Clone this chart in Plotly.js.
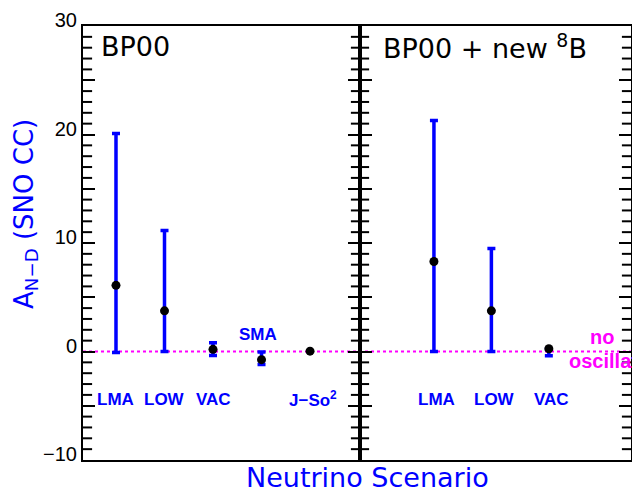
<!DOCTYPE html>
<html>
<head>
<meta charset="utf-8">
<script src="https://cdn.plot.ly/plotly-3.0.1.min.js"></script>
<style>html,body{margin:0;padding:0;background:#fff;}#chart{width:632px;height:494px;}</style>
</head>
<body>
<div id="chart"></div>
<script>
// Left panel: BP00
const catsLeft = ["LMA", "LOW", "VAC", "SMA", "J−So<sup>2</sup>"];
const valLeft = [6.1, 3.75, 0.2, -0.75, 0.03];
const hiLeft = [20.1, 11.15, 0.8, -0.05, 0.03];
const loLeft = [-0.1, 0.0, -0.37, -1.2, 0.03];

// Right panel: BP00 + new 8B
const catsRight = ["LMA", "LOW", "VAC"];
const valRight = [8.3, 3.75, 0.25];
const hiRight = [21.3, 9.5, 0.25];
const loRight = [0.0, 0.0, -0.4];

// y axis ticks (labels only at the tens)
const yMajorVals = [-10, -5, 0, 5, 10, 15, 20, 25, 30];
const yMajorText = ["−10", " ", "0", " ", "10", " ", "20", " ", "30"];

const BLUE = "#0000ff";
const Y_RANGE = [-10, 30];
const X_RANGE_L = [0.32, 6.03];
const X_RANGE_R = [-0.287, 4.43];
const posL = catsLeft.map((c, i) => i + 1);
const posR = catsRight.map((c, i) => i + 1);

// short tick marks every unit on both vertical edges of each panel
const tickUnits = [];
for (let v = Y_RANGE[0]; v <= Y_RANGE[1]; v++) if (v % 5 !== 0) tickUnits.push(v);

function edgeTicks(xr, xa, ya) {
  const ys = tickUnits.concat(tickUnits);
  const xs = tickUnits.map(() => xr[0]).concat(tickUnits.map(() => xr[1]));
  return {
    type: "scatter", mode: "markers", x: xs, y: ys, xaxis: xa, yaxis: ya,
    marker: {symbol: "line-ew", size: 13, color: "black", line: {color: "black", width: 2}},
    cliponaxis: true, showlegend: false, hoverinfo: "skip"
  };
}

function trace(pos, v, hi, lo, xa, ya) {
  return {
    type: "scatter", mode: "markers", x: pos, y: v, xaxis: xa, yaxis: ya,
    marker: {color: "black", size: 9},
    error_y: {type: "data", symmetric: false,
      array: hi.map((h, i) => h - v[i]),
      arrayminus: lo.map((l, i) => v[i] - l),
      color: BLUE, thickness: 3.5, width: 4},
    showlegend: false, hoverinfo: "skip"
  };
}

const data = [
  edgeTicks(X_RANGE_L, "x", "y"),
  edgeTicks(X_RANGE_R, "x2", "y2"),
  trace(posL, valLeft, hiLeft, loLeft, "x", "y"),
  trace(posR, valRight, hiRight, loRight, "x2", "y2")
];

const yax = (anchor) => ({
  range: Y_RANGE, anchor: anchor, domain: [0, 1],
  showline: true, linecolor: "black", linewidth: 2, mirror: "ticks",
  ticks: "inside", ticklen: 12, tickwidth: 2, tickcolor: "black",
  tickmode: "array", tickvals: yMajorVals, ticktext: yMajorText,
  showgrid: false, zeroline: false, fixedrange: true,
  tickfont: {family: "Liberation Sans, Arial, sans-serif", size: 20, color: "black"},
  ticklabelshift: -6
});

const domSplit = 277 / 548;
const layout = {
  width: 632, height: 494,
  margin: {l: 83, r: 1, t: 26, b: 34},
  paper_bgcolor: "white", plot_bgcolor: "white",
  xaxis: {domain: [0, domSplit], range: X_RANGE_L, anchor: "y",
    showline: true, linecolor: "black", linewidth: 2, mirror: true,
    ticks: "", showticklabels: false, showgrid: false, zeroline: false, fixedrange: true},
  xaxis2: {domain: [domSplit, 1], range: X_RANGE_R, anchor: "y2",
    showline: true, linecolor: "black", linewidth: 2, mirror: true,
    ticks: "", showticklabels: false, showgrid: false, zeroline: false, fixedrange: true},
  yaxis: yax("x"),
  yaxis2: Object.assign(yax("x2"), {showticklabels: false}),
  shapes: [
    {type: "line", xref: "paper", yref: "y", x0: 0, x1: 1, y0: 0, y1: 0,
     line: {color: "#ff00ff", width: 2, dash: "dot"}, layer: "below"}
  ],
  annotations: []
};

const labFont = {family: "Liberation Sans, Arial, sans-serif", size: 17, color: BLUE, weight: "bold"};
catsLeft.forEach((c, i) => {
  if (c === "SMA") {
    layout.annotations.push({xref: "x", yref: "y", x: posL[i] - 0.07, y: 1.55, text: c, showarrow: false, font: labFont});
  } else {
    layout.annotations.push({xref: "x", yref: "y", x: posL[i] + (i === 4 ? 0.06 : 0), y: -4.4, text: c, showarrow: false, font: labFont});
  }
});
catsRight.forEach((c, i) => {
  layout.annotations.push({xref: "x2", yref: "y2", x: posR[i] + 0.05, y: -4.4, text: c, showarrow: false, font: labFont});
});

const magFont = {family: "Liberation Sans, Arial, sans-serif", size: 20, color: "#ff00ff", weight: "bold"};
layout.annotations.push(
  {xref: "paper", yref: "y2", x: (602 - 83) / 548, y: 1.3, text: "no", showarrow: false, font: magFont, xanchor: "center"},
  {xref: "paper", yref: "y2", x: (567 - 83) / 548, y: -0.9, text: "oscillation", showarrow: false, font: magFont, xanchor: "left"}
);

const titleFont = {family: "DejaVu Sans, sans-serif", size: 27, color: "black"};
layout.annotations.push(
  {xref: "paper", yref: "paper", x: (99 - 83) / 548, y: (460 - 46) / 434, xanchor: "left", yanchor: "middle",
   text: "BP00", showarrow: false, font: titleFont},
  {xref: "paper", yref: "paper", x: (381 - 83) / 548, y: (460 - 46) / 434, xanchor: "left", yanchor: "middle",
   text: "BP00 + new <sup>8</sup>B", showarrow: false, font: titleFont},
  {xref: "paper", yref: "paper", x: (25 - 83) / 548, y: (460 - 214) / 434, xanchor: "center", yanchor: "middle",
   textangle: -90, text: "A<sub>N−D</sub> (SNO CC)", showarrow: false,
   font: {family: "DejaVu Sans, sans-serif", size: 26, color: BLUE}},
  {xref: "paper", yref: "paper", x: (367 - 83) / 548, y: (460 - 477) / 434, xanchor: "center", yanchor: "middle",
   text: "Neutrino Scenario", showarrow: false,
   font: {family: "DejaVu Sans, sans-serif", size: 27, color: BLUE}}
);

Plotly.newPlot("chart", data, layout, {staticPlot: true, displayModeBar: false});
</script>
</body>
</html>
